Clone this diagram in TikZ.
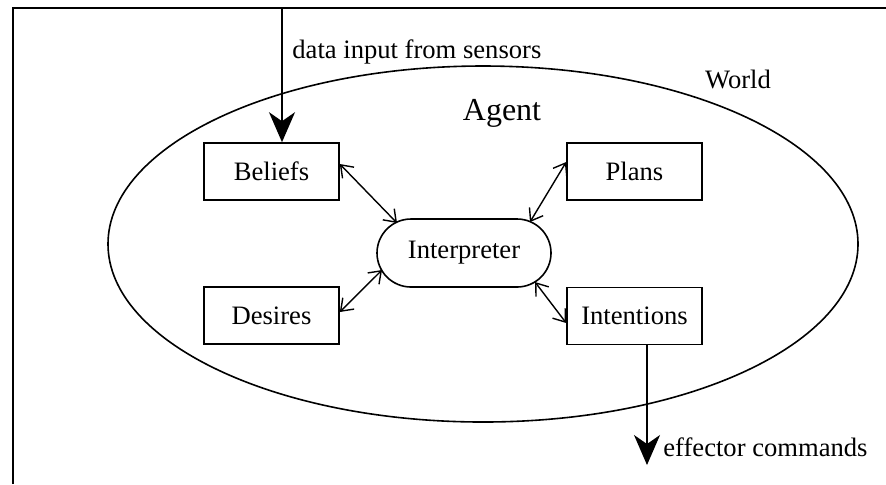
\documentclass[tikz,border=0pt]{standalone}
\usepackage{fontspec}
\setmainfont{Liberation Serif}
\usetikzlibrary{arrows.meta}
\begin{document}
\begin{tikzpicture}[x=0.5pt,y=-0.5pt,
  box/.style={draw,line width=0.8pt,minimum width=67.5pt,minimum height=28.5pt,inner sep=0pt,font=\fontsize{13.3}{15}\selectfont},
  interp/.style={draw,line width=0.8pt,rounded corners=17pt,minimum width=87pt,minimum height=34pt,inner sep=0pt,font=\fontsize{13.3}{15}\selectfont},
  lbl/.style={inner sep=0pt,font=\fontsize{13.3}{15}\selectfont},
  link/.style={line width=0.7pt,{Straight Barb[length=5.5pt,width=8pt]}-{Straight Barb[length=5.5pt,width=8pt]}},
  bigarrow/.style={line width=0.8pt,-{Stealth[length=15pt,width=13pt,inset=4.5pt]}}]
\useasboundingbox (0,0) rectangle (886,484);
% frame
\coordinate (fbl) at (12.5,484);
\coordinate (ftl) at (12.5,8);
\coordinate (ftr) at (886,8);
\draw[line width=1pt] (fbl) -- (ftl) -- (ftr);
% ellipse (agent)
\draw[line width=0.8pt] (483,244) ellipse [x radius=187.5pt, y radius=89pt];
\node[lbl] (world) at (738,79) {World};
\node[lbl,font=\fontsize{16}{18}\selectfont] (agent) at (502,113) {Agent};
% boxes
\node[box] (beliefs) at (271.5,171.5) {Beliefs};
\node[box] (desires) at (271.5,315.5) {Desires};
\node[box] (plans) at (634.5,171.5) {Plans};
\node[box] (intentions) at (634.5,316) {Intentions};
\node[interp] (interp) at (464,253) {Interpreter};
% links
\draw[link] ([yshift=3.75pt]beliefs.east) -- ([xshift=-33.5pt,yshift=15pt]interp.center);
\draw[link] ([yshift=4.75pt]plans.west) -- ([xshift=33pt,yshift=15.5pt]interp.center);
\draw[link] ([yshift=1.75pt]desires.east) -- ([xshift=-41pt,yshift=-8.5pt]interp.center);
\draw[link] ([yshift=-3.5pt]intentions.west) -- ([xshift=35.5pt,yshift=-14.5pt]interp.center);
% input / output
\coordinate (din) at (282,8);
\draw[bigarrow] (din) -- (din |- beliefs.north);
\node[lbl,anchor=west] (dinl) at (292,52) {data input from sensors};
\coordinate (eff) at (647,465);
\draw[bigarrow] (intentions.south -| eff) -- (eff);
\node[lbl,anchor=west] (effl) at (663,447) {effector commands};
\end{tikzpicture}
\end{document}
